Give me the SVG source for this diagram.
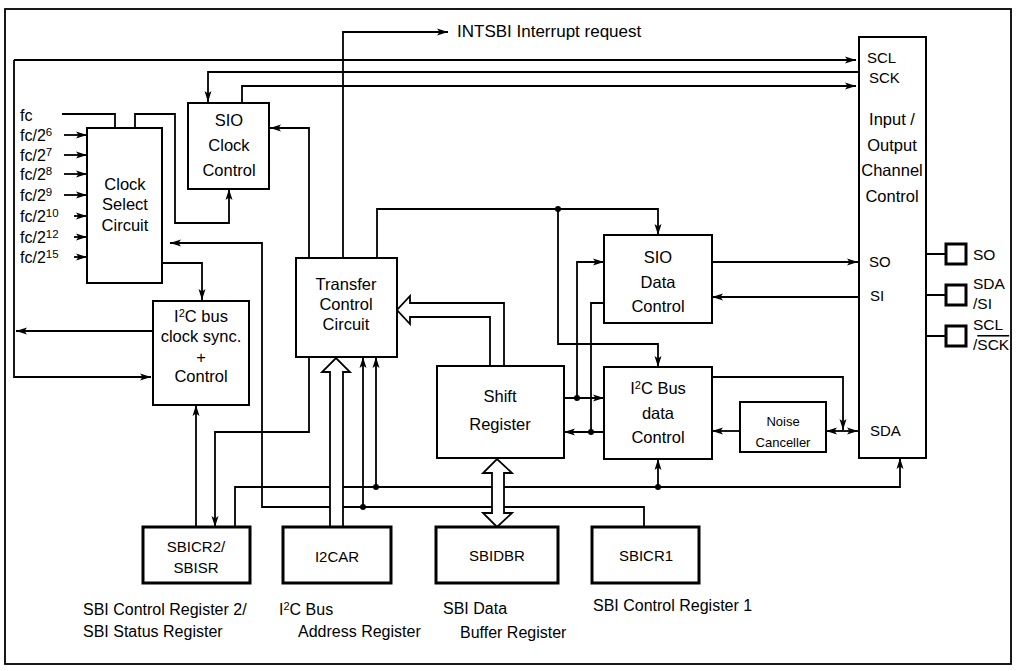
<svg xmlns="http://www.w3.org/2000/svg" width="1018" height="671" viewBox="0 0 1018 671">
<defs>
<marker id="ah" markerWidth="11" markerHeight="8" refX="11" refY="4" orient="auto-start-reverse" markerUnits="userSpaceOnUse">
<path d="M0,0.5 L11,4 L0,7.5 L2.5,4 Z" fill="#000"/>
</marker>
<style>
.box{fill:#fff;stroke:#000;stroke-width:2}
.reg{fill:#fff;stroke:#000;stroke-width:3}
.ln{fill:none;stroke:#000;stroke-width:1.8}
.ar{fill:none;stroke:#000;stroke-width:1.8;marker-end:url(#ah)}
.hol{fill:#fff;stroke:#000;stroke-width:1.8;stroke-linejoin:miter}
.dot{fill:#000}
text{font-family:"Liberation Sans",Arial,sans-serif;fill:#000}
.t{font-size:16.5px;text-anchor:middle}
.s{font-size:16px}
.f{font-size:16px}
.p{font-size:15.5px}
.io{font-size:15px}
.c{font-size:15px;text-anchor:middle}
.n{font-size:13px;text-anchor:middle}
</style>
</defs>
<rect x="5" y="9" width="1006" height="655" fill="#fff" stroke="#000" stroke-width="1.8"/>

<g id="connectors">
<path class="ar" d="M343,258 V32 H448"/>
<path class="ar" d="M14,60 H856"/>
<path class="ar" d="M14,60 V377 H151"/>
<path class="ar" d="M153,331 H16"/>
<path class="ar" d="M858,72 H208 V102"/>
<path class="ar" d="M242,103 V86 H856"/>
<path class="ar" d="M309,258 V128 H270"/>
<path class="ln" d="M62,114 H115 V128"/>
<path class="ar" d="M135,128 V114 H175 V223 H229 V189"/>
<path class="ar" d="M64,135 H87"/>
<path class="ar" d="M64,155 H87"/>
<path class="ar" d="M64,174 H87"/>
<path class="ar" d="M64,195 H87"/>
<path class="ar" d="M74,216 H87"/>
<path class="ar" d="M74,237 H87"/>
<path class="ar" d="M74,257 H87"/>
<path class="ar" d="M162,263 H202 V300"/>
<path class="ar" d="M644,527 V507 H262 V243 H170"/>
<path class="ar" d="M363,507 V357"/>
<path class="ar" d="M196,527 V405"/>
<path class="ar" d="M309,357 V432 H215 V527"/>
<path class="ar" d="M235,527 V487 H900 V458"/>
<path class="ar" d="M376,487 V357"/>
<path class="ar" d="M658,487 V459"/>
<path class="ar" d="M377,258 V209 H658 V235"/>
<path class="ar" d="M558,209 V344 H658 V367"/>
<path class="ar" d="M564,398 H604"/>
<path class="ar" d="M577,398 V262 H604"/>
<path class="ar" d="M604,432 H564"/>
<path class="ln" d="M591,432 V303 H604"/>
<path class="ar" d="M712,262 H858"/>
<path class="ar" d="M858,297 H712"/>
<path class="ar" d="M712,377 H843 V430"/>
<path class="ar" d="M826,431 H858" marker-start="url(#ah)"/>
<path class="ar" d="M740,431 H712"/>
<path class="ln" d="M926,254 H946 M926,295 H946 M926,336 H946"/>
<circle class="dot" cx="376" cy="487" r="3"/>
<circle class="dot" cx="658" cy="487" r="3"/>
<circle class="dot" cx="363" cy="507" r="3"/>
<circle class="dot" cx="558" cy="209" r="3"/>
<circle class="dot" cx="577" cy="398" r="3"/>
<circle class="dot" cx="591" cy="432" r="3"/>
<path class="hol" d="M490,366 V317 H410 V324 L397,310 L410,296 V303 H504 V366"/>
<path class="hol" d="M330,527 V372 H322 L336,358 L350,372 H343 V527"/>
<path class="hol" d="M492,473 H483 L497,459 L512,473 H504 V513 H512 L497,527 L483,513 H492 Z"/>
</g>

<text x="457" y="37" style="font-size:17px">INTSBI Interrupt request</text>

<g id="inputs">
<text class="f" x="20" y="121">fc</text>
<text class="f" x="20" y="141">fc/2<tspan dy="-5" font-size="11.5">6</tspan></text>
<text class="f" x="20" y="161">fc/2<tspan dy="-5" font-size="11.5">7</tspan></text>
<text class="f" x="20" y="180">fc/2<tspan dy="-5" font-size="11.5">8</tspan></text>
<text class="f" x="20" y="201">fc/2<tspan dy="-5" font-size="11.5">9</tspan></text>
<text class="f" x="20" y="222">fc/2<tspan dy="-5" font-size="11.5">10</tspan></text>
<text class="f" x="20" y="243">fc/2<tspan dy="-5" font-size="11.5">12</tspan></text>
<text class="f" x="20" y="263">fc/2<tspan dy="-5" font-size="11.5">15</tspan></text>
</g>

<g id="clock-select">
<rect class="box" x="87" y="128" width="75" height="155"/>
<text class="t" x="125" y="190">Clock</text>
<text class="t" x="125" y="210">Select</text>
<text class="t" x="125" y="231">Circuit</text>
</g>

<g id="sio-clock">
<rect class="box" x="188" y="103" width="81" height="86"/>
<text class="t" x="229" y="126">SIO</text>
<text class="t" x="229" y="151">Clock</text>
<text class="t" x="229" y="176">Control</text>
</g>

<g id="i2c-clock-sync">
<rect class="box" x="153" y="301" width="96" height="104"/>
<text class="t" x="201" y="322">I<tspan dy="-5" font-size="11">2</tspan><tspan dy="5">C bus</tspan></text>
<text class="t" x="201" y="342">clock sync.</text>
<text class="t" x="201" y="363">+</text>
<text class="t" x="201" y="382">Control</text>
</g>

<g id="transfer-control">
<rect class="box" x="296" y="258" width="101" height="99"/>
<text class="t" x="346" y="290">Transfer</text>
<text class="t" x="346" y="310">Control</text>
<text class="t" x="346" y="330">Circuit</text>
</g>

<g id="shift-register">
<rect class="box" x="437" y="366" width="127" height="92"/>
<text class="t" x="500" y="402">Shift</text>
<text class="t" x="500" y="430">Register</text>
</g>

<g id="sio-data">
<rect class="box" x="604" y="235" width="108" height="88"/>
<text class="t" x="658" y="263">SIO</text>
<text class="t" x="658" y="288">Data</text>
<text class="t" x="658" y="312">Control</text>
</g>

<g id="i2c-data">
<rect class="box" x="604" y="367" width="108" height="92"/>
<text class="t" x="658" y="394">I<tspan dy="-5" font-size="11">2</tspan><tspan dy="5">C Bus</tspan></text>
<text class="t" x="658" y="419">data</text>
<text class="t" x="658" y="443">Control</text>
</g>

<g id="noise-canceller">
<rect class="box" x="740" y="402" width="86" height="50"/>
<text class="n" x="783" y="426">Noise</text>
<text class="n" x="783" y="447">Canceller</text>
</g>

<g id="io-channel">
<rect class="box" x="859" y="37" width="67" height="421"/>
<text class="io" x="867" y="63">SCL</text>
<text class="io" x="869" y="83">SCK</text>
<text class="t" x="892" y="125">Input /</text>
<text class="t" x="892" y="151">Output</text>
<text class="t" x="892" y="176">Channel</text>
<text class="t" x="892" y="202">Control</text>
<text class="io" x="869" y="267">SO</text>
<text class="io" x="870" y="301">SI</text>
<text class="io" x="870" y="436">SDA</text>
</g>

<g id="pin-so">
<rect class="reg" x="946" y="244" width="20" height="20"/>
<text class="p" x="973" y="260">SO</text>
</g>
<g id="pin-sda-si">
<rect class="reg" x="946" y="285" width="20" height="20"/>
<text class="p" x="973" y="289">SDA</text>
<text class="p" x="973" y="309">/SI</text>
</g>
<g id="pin-scl-sck">
<rect class="reg" x="946" y="326" width="20" height="20"/>
<text class="p" x="973" y="330">SCL</text>
<text class="p" x="973" y="350">/<tspan text-decoration="overline">SCK</tspan></text>
</g>

<g id="sbicr2">
<rect class="reg" x="143" y="527" width="107" height="56"/>
<text class="c" x="196" y="552">SBICR2/</text>
<text class="c" x="196" y="573">SBISR</text>
<text class="s" x="83" y="615">SBI Control Register 2/</text>
<text class="s" x="83" y="637">SBI Status Register</text>
</g>

<g id="i2car">
<rect class="reg" x="283" y="527" width="108" height="56"/>
<text class="c" x="337" y="562">I2CAR</text>
<text class="s" x="279" y="615">I<tspan dy="-5" font-size="11">2</tspan><tspan dy="5">C Bus</tspan></text>
<text class="s" x="298" y="637">Address Register</text>
</g>

<g id="sbidbr">
<rect class="reg" x="436" y="527" width="122" height="56"/>
<text class="c" x="497" y="561">SBIDBR</text>
<text class="s" x="443" y="614">SBI Data</text>
<text class="s" x="460" y="638">Buffer Register</text>
</g>

<g id="sbicr1">
<rect class="reg" x="592" y="527" width="107" height="56"/>
<text class="c" x="646" y="561">SBICR1</text>
<text class="s" x="593" y="611">SBI Control Register 1</text>
</g>
</svg>
